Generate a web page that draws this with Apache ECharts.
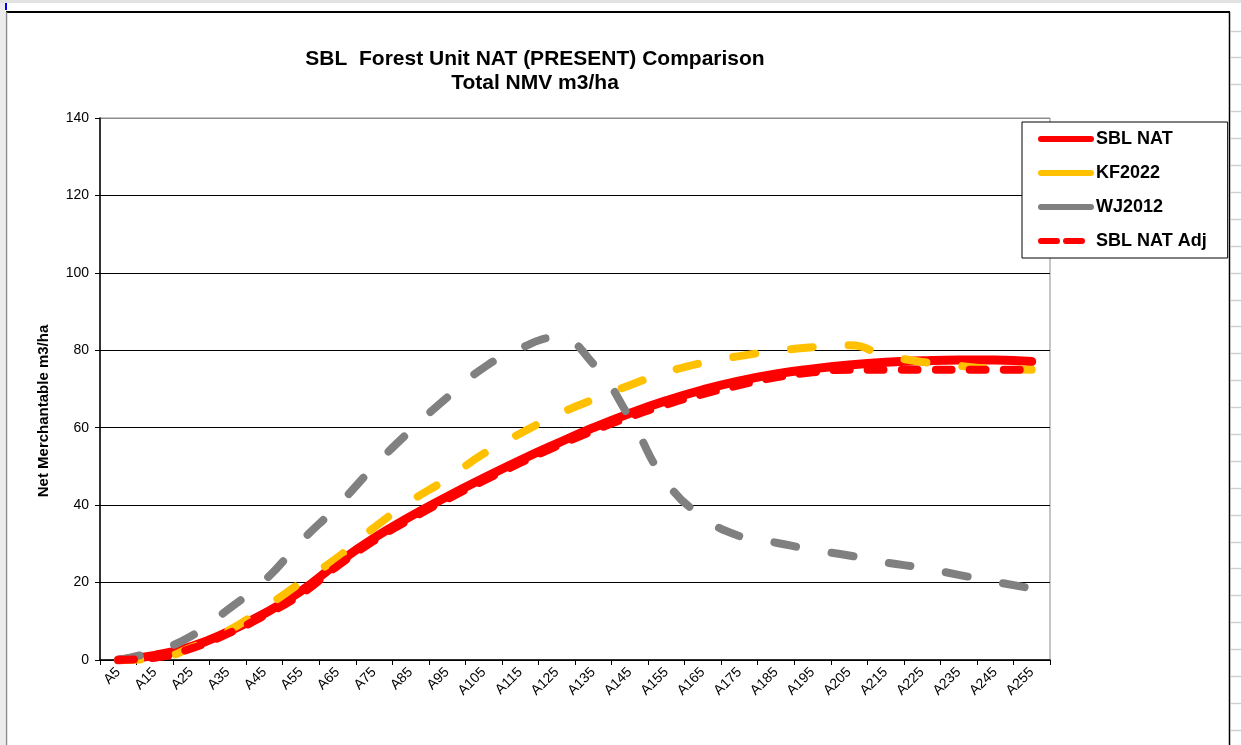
<!DOCTYPE html>
<html>
<head>
<meta charset="utf-8">
<script src="https://cdn.jsdelivr.net/npm/echarts@6/dist/echarts.min.js"></script>
<style>
  html, body { margin: 0; padding: 0; background: #ffffff; }
  #chart { width: 1241px; height: 745px; }
</style>
</head>
<body>
<div id="chart"></div>
<script>
// Stand age classes along the x axis
const categories = ['A5', 'A15', 'A25', 'A35', 'A45', 'A55', 'A65', 'A75', 'A85', 'A95',
  'A105', 'A115', 'A125', 'A135', 'A145', 'A155', 'A165', 'A175', 'A185', 'A195',
  'A205', 'A215', 'A225', 'A235', 'A245', 'A255'];

// Net merchantable volume (m3/ha) per curve
const sblNat = [0, 1.2, 3.5, 7.3, 12, 17.8, 25, 31.5, 37.1, 42.2,
  47, 51.6, 55.9, 60, 63.7, 67, 69.8, 72.1, 73.9, 75.2,
  76.2, 76.9, 77.3, 77.5, 77.5, 77.1];
const kf2022 = [0, 0.3, 3.2, 7.5, 13.5, 20, 26.5, 34.2, 41, 46.8,
  53.3, 58.5, 63.3, 67.3, 71, 74.3, 76.8, 78.5, 79.8, 80.8,
  81.3, 78.7, 77, 76, 75.2, 75];
const wj2012 = [0, 2.3, 6.2, 13, 20.5, 30.6, 39.8, 50, 59.3, 67.8,
  75.5, 80.5, 83.3, 76.5, 62.5, 46, 37, 32, 30.3, 28.5,
  27, 25.2, 23.8, 22, 20.2, 18.5];
const sblNatAdj = [0, 0.6, 3, 6.8, 11.5, 17, 24.3, 30.8, 36.4, 41.5,
  46.3, 50.9, 55.2, 59.2, 62.8, 66, 68.7, 71, 73, 74.3,
  75, 75, 75, 75, 75, 75];

// Value axis range
const yMin = 0;
const yMax = 140;
const yStep = 20;

const FONT = "'Liberation Sans', Arial, Helvetica, sans-serif";

// Worksheet row lines visible to the right of the chart object
const sheetLines = [];
for (let y = 30.5; y < 745; y += 26.9) {
  sheetLines.push({
    type: 'line', silent: true, z: -5,
    shape: { x1: 1231, y1: Math.round(y) + 0.5, x2: 1241, y2: Math.round(y) + 0.5 },
    style: { stroke: '#d0d0d0', lineWidth: 1.5 }
  });
}

const chart = echarts.init(document.getElementById('chart'), null, { renderer: 'canvas' });

chart.setOption({
  backgroundColor: '#ffffff',
  animation: false,
  textStyle: { fontFamily: FONT },
  title: {
    text: 'SBL  Forest Unit NAT (PRESENT) Comparison\nTotal NMV m3/ha',
    left: 535,
    top: 47,
    padding: 0,
    textAlign: 'center',
    textStyle: { fontFamily: FONT, fontSize: 21, fontWeight: 'bold', color: '#000', lineHeight: 24 }
  },
  graphic: [
    // sheet header strip and chart object frame
    { type: 'rect', silent: true, z: -6, shape: { x: 0, y: 0, width: 1241, height: 3 }, style: { fill: '#e2e2e2' } },
    { type: 'rect', silent: true, z: -6, shape: { x: 0, y: 3, width: 5, height: 742 }, style: { fill: '#ececec' } },
    { type: 'rect', silent: true, z: -4, shape: { x: 5, y: 3, width: 2, height: 7 }, style: { fill: '#0000ff' } },
    { type: 'line', silent: true, z: -4, shape: { x1: 6, y1: 12, x2: 1230, y2: 12 }, style: { stroke: '#000', lineWidth: 2 } },
    { type: 'line', silent: true, z: -4, shape: { x1: 6.5, y1: 12, x2: 6.5, y2: 745 }, style: { stroke: '#8c8c8c', lineWidth: 1.5 } },
    { type: 'line', silent: true, z: -4, shape: { x1: 1229.5, y1: 12, x2: 1229.5, y2: 745 }, style: { stroke: '#000', lineWidth: 1.5 } }
  ].concat(sheetLines),
  legend: {
    orient: 'vertical',
    left: 1022,
    top: 122,
    padding: [8, 21, 8, 16],
    itemGap: 16,
    itemWidth: 50,
    itemHeight: 14,
    backgroundColor: '#ffffff',
    borderColor: '#000000',
    borderWidth: 1,
    textStyle: { fontFamily: FONT, fontSize: 18, fontWeight: 'bold', color: '#000' },
    itemStyle: { opacity: 0, borderWidth: 0 },
    lineStyle: { width: 6, cap: 'round' },
    data: [
      { name: 'SBL NAT' },
      { name: 'KF2022', lineStyle: { type: 'solid' } },
      { name: 'WJ2012', lineStyle: { type: 'solid' } },
      { name: 'SBL NAT Adj', lineStyle: { type: [16, 9] } }
    ]
  },
  grid: {
    left: 100,
    right: 191,
    top: 118,
    bottom: 85,
    show: true,
    borderColor: '#8c8c8c',
    borderWidth: 1,
    backgroundColor: 'transparent'
  },
  xAxis: {
    type: 'category',
    data: categories,
    boundaryGap: true,
    axisLine: { show: true, lineStyle: { color: '#000', width: 1.5 } },
    axisTick: { show: true, interval: 0, alignWithLabel: false, length: 5, lineStyle: { color: '#000', width: 1 } },
    axisLabel: { interval: 0, rotate: 45, margin: 10, fontFamily: FONT, fontSize: 14, color: '#000' },
    splitLine: { show: false }
  },
  yAxis: {
    type: 'value',
    min: yMin,
    max: yMax,
    interval: yStep,
    name: 'Net Merchantable m3/ha',
    nameLocation: 'middle',
    nameRotate: 90,
    nameGap: 49,
    nameTextStyle: { fontFamily: FONT, fontSize: 15, fontWeight: 'bold', color: '#000', padding: [0, 44, 0, 0] },
    axisLine: { show: true, lineStyle: { color: '#000', width: 1.5 } },
    axisTick: { show: true, inside: false, length: 5, lineStyle: { color: '#000', width: 1 } },
    axisLabel: { margin: 11, fontFamily: FONT, fontSize: 14, color: '#000' },
    splitLine: {
      show: true,
      lineStyle: { color: ['#000', '#000', '#000', '#000', '#000', '#000', '#000', '#8c8c8c'], width: 1 }
    }
  },
  series: [
    {
      name: 'SBL NAT', type: 'line', data: sblNat, smooth: 0.5,
      symbol: 'none', showSymbol: false, color: '#ff0000',
      lineStyle: { color: '#ff0000', width: 9, cap: 'round', join: 'round' }
    },
    {
      name: 'KF2022', type: 'line', data: kf2022, smooth: 0.5,
      symbol: 'none', showSymbol: false, color: '#ffc000',
      lineStyle: { color: '#ffc000', width: 8, type: [22, 36], cap: 'round', join: 'round' }
    },
    {
      name: 'WJ2012', type: 'line', data: wj2012, smooth: 0.5,
      symbol: 'none', showSymbol: false, color: '#808080',
      lineStyle: { color: '#808080', width: 8, type: [22, 36], cap: 'round', join: 'round' }
    },
    {
      name: 'SBL NAT Adj', type: 'line', data: sblNatAdj, smooth: 0.5,
      symbol: 'none', showSymbol: false, color: '#ff0000',
      lineStyle: { color: '#ff0000', width: 8, type: [16, 18], cap: 'round', join: 'round' }
    }
  ]
});
</script>
</body>
</html>
